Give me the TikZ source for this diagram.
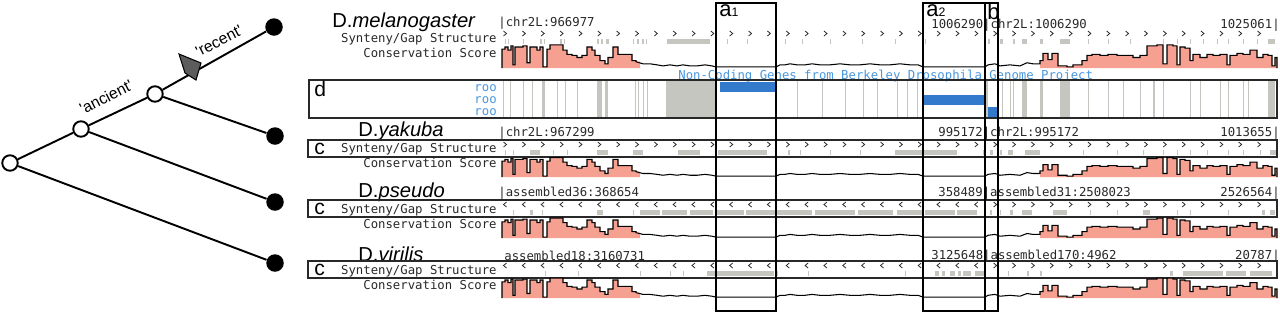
\documentclass[tikz,border=0pt]{standalone}
\usepackage{fontspec}
\setmainfont{Liberation Sans}
\setmonofont{DejaVu Sans Mono}
\usetikzlibrary{positioning}
\definecolor{consfill}{RGB}{246,160,145}
\definecolor{gapgrey}{RGB}{198,198,192}
\definecolor{rooblue}{RGB}{52,122,204}
\definecolor{txtblue}{RGB}{72,150,222}
\definecolor{trackgrey}{RGB}{40,40,40}
\definecolor{marker}{RGB}{92,92,92}

\newcommand{\consleft}{502/18,505/20,508/17,511/21,513/3,515/20,523/21,527/5,530/20,537/17,540/20,543/1,547/18,550/22,560/22,563/17,567/13,572/12,577/10,582/12,587/20,592/17,595/12,600/7,605/4,608/10,613/20,618/13,628/13,632/7,636/6}
\newcommand{\consmid}{643/4,650/4,657/3,663/2,670/3,677/2,683/3,690/2,697/2,705/3,712/2,716/1,776/1,780/3,785/3,790/4,797/3,805/3,812/4,820/3,830/3,840/4,850/3,860/3,870/4,880/3,890/3,900/4,910/3,918/3,923/1,985/1,988/3,995/4,1000/2,1010/3,1020/2,1027/5,1033/4}
\newcommand{\consright}{1040/7,1043/14,1048/8,1052/14,1058/2,1067/1,1073/3,1082/7,1087/12,1092/13,1100/12,1108/13,1117/12,1125/12,1133/10,1140/12,1147/21,1157/22,1163/4,1167/22,1173/21,1177/3,1180/20,1185/19,1190/7,1193/13,1200/10,1207/13,1213/12,1220/13,1227/3,1230/12,1237/14,1243/13,1250/17,1257/10,1263/13,1268/12,1272/2,1275/10}

\newcommand{\synmel}{505/1,508/1,523/1,540/2,544/1,560/2,564/1,597/2,601/2,606/3,633/1,637/2,642/2,646/1,667/43,700/10,727/1,747/1,785/1,802/1,830/1,862/1,895/1,925/1,988/2,1000/3,1013/2,1022/5,1040/3,1060/10,1088/1,1108/1,1130/1,1163/1,1177/1,1190/1,1203/1,1217/1,1228/1,1243/1,1257/1,1268/7}
\newcommand{\synyak}{505/1,513/1,530/10,553/1,567/1,597/11,633/10,678/22,718/49,788/2,800/1,830/1,860/1,895/62,983/2,990/3,1000/2,1008/5,1025/15,1083/1,1117/1,1143/1,1163/1,1177/1,1190/1,1207/1,1228/1,1243/1,1260/1,1270/6}
\newcommand{\synpse}{513/1,530/3,542/1,597/6,633/1,640/20,662/25,690/23,716/28,746/30,777/35,815/40,858/35,897/25,925/30,957/20,990/2,1000/1,1010/3,1022/10,1053/14,1090/1,1117/1,1143/7,1177/1,1190/1,1228/1,1262/3,1270/5}
\newcommand{\synvir}{545/1,578/1,640/1,670/1,683/1,707/67,777/1,808/1,905/1,935/4,942/3,950/5,958/3,963/8,975/10,1008/1,1027/2,1040/2,1170/3,1183/40,1226/20,1250/22}
\newcommand{\stripesd}{503/1,510/1,523/1,532/1,542/3,557/1,565/1,577/1,597/5,605/3,635/1,638/1,643/1,647/1,666/50,797/1,822/1,845/1,863/1,877/1,897/1,907/1,917/1,985/3,1002/1,1010/1,1013/1,1022/5,1040/3,1060/10,1088/1,1108/1,1123/1,1140/1,1153/2,1163/1,1190/1,1200/1,1220/1,1228/1,1243/1,1248/1,1268/7}

\newcommand{\consplot}[2]{%
\begin{scope}[shift={(0,#1)},yscale=#2]
\fill[consfill] (502,0) \foreach \x/\h in \consleft {-| (\x,-\h)} -| (640,0) -- cycle;
\fill[consfill] (1040,0) \foreach \x/\h in \consright {-| (\x,-\h)} -| (1277,0) -- cycle;
\draw[line width=0.6pt] (502,0) \foreach \x/\h in \consleft {-| (\x,-\h)}
  \foreach \x/\h in \consmid {-- (\x,-\h)}
  \foreach \x/\h in \consright {-| (\x,-\h)} -| (1277,0);
\end{scope}}

\newcommand{\synrow}[3]{%
\foreach \x/\w in #2 {\fill[gapgrey] (\x,#1+8) rectangle ++(\w,4.5);}
\foreach \k in {0,...,40} {
  \pgfmathsetmacro{\cx}{505+18.85*\k}
  \ifdim\cx pt<#3pt
    \draw[trackgrey,line width=0.45pt] (\cx+1.5,#1) -- (\cx-1.5,#1+2.5) -- (\cx+1.5,#1+5);
  \else
    \draw[trackgrey,line width=0.45pt] (\cx-1.5,#1) -- (\cx+1.5,#1+2.5) -- (\cx-1.5,#1+5);
  \fi
}}

\begin{document}
\begin{tikzpicture}[x=0.02cm,y=-0.02cm,
branch/.style={line width=1.1pt},
splitdot/.style={circle,draw,fill=white,line width=1.1pt,minimum size=0.31cm,inner sep=0pt},
tipdot/.style={circle,fill=black,minimum size=0.35cm,inner sep=0pt},
species/.style={anchor=west,inner sep=0pt,font=\fontsize{11.5}{13}\selectfont},
trackname/.style={anchor=east,inner sep=0pt,text=trackgrey,font=\ttfamily\fontsize{7}{8}\selectfont},
coordtext/.style={inner sep=0pt,text=trackgrey,font=\ttfamily\fontsize{7}{8}\selectfont},
panel/.style={draw=trackgrey,line width=0.6pt},
boxtag/.style={anchor=west,inner sep=0pt,font=\fontsize{12}{13}\selectfont},
regionbox/.style={draw=black,line width=0.6pt}]
\useasboundingbox (0,0) rectangle (1280,312);

% tree
\node[tipdot] (L1) at (274,27) {};
\node[tipdot] (L2) at (275,136) {};
\node[tipdot] (L3) at (275,202) {};
\node[tipdot] (L4) at (275,263) {};
\node[splitdot] (R) at (10,163) {};
\node[splitdot] (N1) at (81,129) {};
\node[splitdot] (N2) at (155,94) {};
\draw[branch] (R) -- (N1) -- (N2) -- (L1);
\draw[branch] (N2) -- (L2);
\draw[branch] (N1) -- (L3);
\draw[branch] (R) -- (L4);
\draw[fill=marker,line width=0.6pt] (179,54) -- (201,63) -- (196,80) -- (185,73) -- cycle;
\node[rotate=27,inner sep=0pt,font=\fontsize{9}{10}\selectfont] (anc) at (106,97) {\textquotesingle ancient\textquotesingle};
\node[rotate=27,inner sep=0pt,font=\fontsize{9}{10}\selectfont] (rec) at (219,41) {\textquotesingle recent\textquotesingle};

% D. melanogaster
\node[species] (mel) at (332,22) {D.\textit{melanogaster}};
\node[coordtext,anchor=west] at (498,23) {|chr2L:966977};
\node[coordtext,anchor=west] at (931,25) {1006290|chr2L:1006290};
\node[coordtext,anchor=east] at (1280,25) {1025061|};
\node[trackname] at (497,39) {Synteny/Gap Structure};
\node[trackname] at (497,53) {Conservation Score};
\synrow{31}{\synmel}{0}
\consplot{68}{1.05}
\node[coordtext,anchor=west,text=txtblue] at (678,76) {Non-Coding Genes from Berkeley Drosophila Genome Project};

% roo track
\foreach \x/\w in \stripesd {\fill[gapgrey] (\x,81) rectangle ++(\w,36);}
\fill[rooblue] (720,82) rectangle (776,92);
\fill[rooblue] (923,95) rectangle (984,105);
\fill[rooblue] (988,107) rectangle (997,118);
\draw[panel] (309,80) rectangle (1277,118);
\node[boxtag] at (314,89) {d};
\node[trackname,text=txtblue] at (497,88) {roo};
\node[trackname,text=txtblue] at (497,100) {roo};
\node[trackname,text=txtblue] at (497,112) {roo};

% D. yakuba
\node[species] (yak) at (358,131) {D.\textit{yakuba}};
\node[coordtext,anchor=west] at (498,133) {|chr2L:967299};
\node[coordtext,anchor=west] at (938,133) {995172|chr2L:995172};
\node[coordtext,anchor=east] at (1280,133) {1013655|};
\synrow{142}{\synyak}{0}
\draw[panel] (308,140) rectangle (1277,157);
\node[boxtag] at (314,149) {c};
\node[trackname] at (497,149) {Synteny/Gap Structure};
\node[trackname] at (497,163) {Conservation Score};
\consplot{177}{0.88}

% D. pseudo
\node[species] (pse) at (358,192) {D.\textit{pseudo}};
\node[coordtext,anchor=west] at (498,193) {|assembled36:368654};
\node[coordtext,anchor=west] at (938,193) {358489|assembled31:2508023};
\node[coordtext,anchor=east] at (1280,193) {2526564|};
\synrow{202}{\synpse}{985}
\draw[panel] (308,200) rectangle (1277,217);
\node[boxtag] at (314,209) {c};
\node[trackname] at (497,210) {Synteny/Gap Structure};
\node[trackname] at (497,224) {Conservation Score};
\consplot{238}{0.9}

% D. virilis
\node[species] (vir) at (358,254) {D.\textit{virilis}};
\node[coordtext,anchor=west] at (504,256) {assembled18:3160731};
\node[coordtext,anchor=west] at (931,256) {3125648|assembled170:4962};
\node[coordtext,anchor=east] at (1280,256) {20787|};
\synrow{263}{\synvir}{985}
\draw[panel] (308,261) rectangle (1277,278);
\node[boxtag] at (314,270) {c};
\node[trackname] at (497,271) {Synteny/Gap Structure};
\node[trackname] at (497,285) {Conservation Score};
\consplot{298}{0.9}

% regions
\draw[regionbox] (716,3) rectangle (776,311);
\draw[regionbox] (923,3) rectangle (985,311);
\draw[regionbox] (985,3) rectangle (998,311);
\node[anchor=north west,inner sep=0pt,font=\fontsize{12.5}{13}\selectfont] (a1) at (719,4) {a{\fontsize{7}{8}\selectfont 1}};
\node[anchor=north west,inner sep=0pt,font=\fontsize{12.5}{13}\selectfont] (a2) at (926,4) {a{\fontsize{7}{8}\selectfont 2}};
\node[anchor=north west,inner sep=0pt,font=\fontsize{12.5}{13}\selectfont] (b) at (987,3) {b};
\end{tikzpicture}
\end{document}
